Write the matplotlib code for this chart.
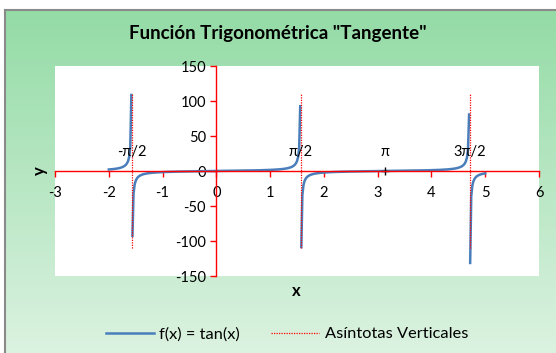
import numpy as np
import matplotlib
matplotlib.use("Agg")
import matplotlib.pyplot as plt
from matplotlib.lines import Line2D

plt.rcParams['font.family'] = ['Lato', 'DejaVu Sans']
plt.rcParams['axes.unicode_minus'] = False

# tabla de valores de la hoja: x de -2 a 5 con paso 0.02, f(x) = tan(x)
x_start, x_stop, x_step = -2.0, 5.0, 0.02
x_vals = np.round(np.arange(x_start, x_stop + x_step / 2, x_step), 2)
y_vals = np.tan(x_vals)

# asintotas verticales
asym_x = [-np.pi / 2, np.pi / 2, 3 * np.pi / 2]
asym_y = [-110, 110]

# etiquetas de puntos notables
mark_x = [-np.pi / 2, np.pi / 2, np.pi, 3 * np.pi / 2]
mark_labels = ['-π/2', 'π/2', 'π', '3π/2']

x_ticks = [-3, -2, -1, 0, 1, 2, 3, 4, 5, 6]
y_ticks = [-150, -100, -50, 0, 50, 100, 150]

W, H = 556, 353
fig = plt.figure(figsize=(W / 100, H / 100), dpi=100)
fig.patch.set_facecolor('white')

# fondo degradado verde
bg = fig.add_axes([6 / W, 0, 1 - 6 / W, 1 - 10 / H])
grad = np.linspace(0, 1, 256).reshape(-1, 1)
top_c = np.array([0.58, 0.86, 0.65])
bot_c = np.array([0.86, 0.95, 0.88])
img = top_c + (bot_c - top_c) * grad[:, :, None]
bg.imshow(img, aspect='auto', extent=[0, 1, 0, 1])
bg.set_axis_off()
fig.add_artist(Line2D([5 / W, 5 / W], [0, 1 - 9.5 / H], color='#8a8a8a', lw=1.5))
fig.add_artist(Line2D([5 / W, 1], [1 - 9.5 / H, 1 - 9.5 / H], color='#8a8a8a', lw=1.5))

ax = fig.add_axes([55 / W, 1 - 276 / H, 484 / W, 210 / H])
ax.set_facecolor('white')

blue = '#4A7EBB'
segments = [x_vals < -np.pi / 2,
            (x_vals > -np.pi / 2) & (x_vals < np.pi / 2),
            (x_vals > np.pi / 2) & (x_vals < 3 * np.pi / 2),
            x_vals > 3 * np.pi / 2]
for m in segments:
    ax.plot(x_vals[m], y_vals[m], color=blue, lw=1.8)

for xa in asym_x:
    ax.plot([xa, xa], asym_y, color='red', lw=0.9, ls=(0, (1, 1)))

ax.plot([np.pi], [0], marker='+', color='black', ms=6, mew=1)
for xm, lab in zip(mark_x, mark_labels):
    ax.text(xm, 27, lab, ha='center', va='center', fontsize=10.5)

ax.set_xlim(-3, 6)
ax.set_ylim(-150, 150)
ax.set_xticks(x_ticks)
ax.set_yticks(y_ticks)
ax.tick_params(colors='red', labelcolor='black', labelsize=10.5, length=4, width=1)
ax.tick_params(axis='x', pad=7)
for s in ['top', 'right']:
    ax.spines[s].set_visible(False)
ax.spines['left'].set_position(('data', 0))
ax.spines['bottom'].set_position(('data', 0))
ax.spines['left'].set_color('red')
ax.spines['bottom'].set_color('red')
ax.spines['left'].set_linewidth(1)
ax.spines['bottom'].set_linewidth(1)

fig.text(296 / W, 1 - 291 / H, 'x', ha='center', va='center', fontsize=12, fontweight='bold')
fig.text(40 / W, 1 - 171 / H, 'y', ha='center', va='center', fontsize=12, fontweight='bold', rotation=90)
fig.text(0.5, 1 - 34 / H, 'Función Trigonométrica "Tangente"', ha='center', va='center',
         fontsize=13.5, fontweight='bold')

handles = [Line2D([], [], color=blue, lw=1.8), Line2D([], [], color='red', lw=0.9, ls=(0, (1, 1)))]
fig.legend(handles, ['f(x) = tan(x)', 'Asíntotas Verticales'], loc='center', ncol=2,
           bbox_to_anchor=(287 / W, 1 - 334 / H), frameon=False, fontsize=11.8,
           handlelength=2.9, handletextpad=0.35, columnspacing=1.9)

fig.savefig('out.png', dpi=100)
